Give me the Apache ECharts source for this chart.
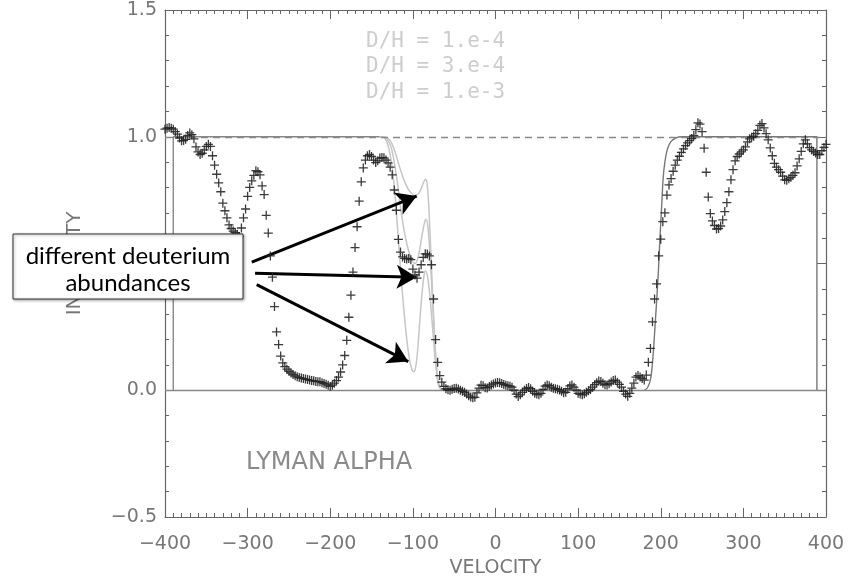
<!DOCTYPE html>
<html><head><meta charset="utf-8">
<script src="https://cdn.jsdelivr.net/npm/echarts@6/dist/echarts.min.js"></script>
<style>html,body{margin:0;padding:0;background:#fff}#c{width:854px;height:583px}</style>
</head><body><div id="c"></div>
<script>
// Velocity grid of the observed spectrum (km/s)
const VEL_START = -400, VEL_STEP = 2.5;
// Observed intensity, in 100 km/s pieces
const flux_m400 = [1.030,1.034,1.036,1.034,1.030,1.020,1.010,0.995,0.984,0.985,
  0.990,1.005,1.015,1.008,0.992,0.960,0.940,0.930,0.935,0.948,
  0.962,0.970,0.962,0.925,0.888,0.852,0.818,0.783,0.738,0.708,
  0.680,0.652,0.638,0.628,0.622,0.615,0.607,0.640,0.680,0.715];
const flux_m300 = [0.765,0.800,0.826,0.848,0.866,0.862,0.850,0.806,0.772,0.690,
  0.620,0.530,0.446,0.330,0.230,0.180,0.135,0.108,0.093,0.083,
  0.075,0.068,0.062,0.057,0.053,0.050,0.048,0.046,0.044,0.042,
  0.040,0.038,0.037,0.035,0.034,0.034,0.030,0.027,0.024,0.020];
const flux_m200 = [0.015,0.020,0.028,0.038,0.052,0.072,0.100,0.137,0.197,0.288,
  0.375,0.466,0.563,0.645,0.746,0.822,0.877,0.908,0.925,0.930,
  0.922,0.908,0.898,0.905,0.916,0.918,0.917,0.908,0.897,0.880,
  0.850,0.790,0.710,0.595,0.545,0.526,0.520,0.518,0.520,0.515];
const flux_m100 = [0.478,0.455,0.442,0.466,0.495,0.524,0.538,0.537,0.530,0.495,
  0.360,0.200,0.110,0.058,0.032,0.015,0.006,0.002,0.000,0.004,
  0.007,0.008,0.005,0.000,-0.004,-0.008,-0.015,-0.022,-0.027,-0.030,
  -0.028,-0.010,0.008,0.020,0.018,0.010,0.009,0.015,0.021,0.025];
const flux_p000 = [0.029,0.031,0.030,0.027,0.023,0.020,0.018,0.016,0.012,0.000,
  -0.015,-0.025,-0.018,-0.008,0.000,0.007,0.011,0.006,-0.004,-0.012,
  -0.015,-0.018,-0.012,0.003,0.016,0.021,0.018,0.012,0.008,0.006,
  0.004,0.001,-0.004,-0.010,-0.008,0.006,0.017,0.021,0.012,0.000];
const flux_p100 = [-0.012,-0.015,-0.018,-0.014,-0.008,-0.002,0.003,0.012,0.022,0.030,
  0.036,0.035,0.028,0.022,0.021,0.026,0.033,0.038,0.040,0.032,
  0.023,0.012,-0.004,-0.015,-0.024,-0.012,0.008,0.028,0.052,0.058,
  0.052,0.046,0.040,0.060,0.110,0.165,0.270,0.360,0.420,0.530];
const flux_p200 = [0.596,0.665,0.700,0.770,0.810,0.835,0.864,0.888,0.908,0.923,
  0.938,0.952,0.965,0.976,0.985,0.993,1.005,1.028,1.055,1.050,
  1.020,0.955,0.860,0.762,0.697,0.668,0.650,0.636,0.638,0.648,
  0.672,0.705,0.740,0.783,0.830,0.870,0.905,0.922,0.932,0.940];
const flux_p300 = [0.948,0.960,0.980,0.992,0.998,1.002,1.012,1.025,1.045,1.052,
  1.035,1.012,0.988,0.956,0.925,0.895,0.880,0.870,0.860,0.845,
  0.830,0.828,0.834,0.840,0.848,0.858,0.885,0.913,0.942,0.972,
  0.988,0.972,0.957,0.948,0.942,0.936,0.930,0.930,0.945,0.958,
  0.970];

// Model profile (velocity, intensity)
const modelLeft = [[-390,0],[-390,1],[-136,1]];
const modelRight = [[180,0],[184,0.01],[188,0.05],[191,0.15],[194,0.30],[197,0.46],[199,0.60],
  [201,0.72],[203,0.84],[205,0.90],[208,0.95],[212,0.98],[218,0.995],[225,1.0],[389,1.0],[389,0]];
const dh1e4 = [[-140,1.0],[-133,0.998],[-129,0.99],[-125,0.97],[-121,0.935],[-117,0.89],[-113,0.85],
  [-109,0.815],[-105,0.79],[-101,0.775],[-97,0.768],[-93,0.776],[-90,0.795],[-87,0.82],[-85,0.832],
  [-83,0.82],[-81,0.74],[-79,0.60],[-77,0.45],[-75,0.30],[-73,0.17],[-71,0.08],[-69,0.03],[-66,0.005],[-60,0]];
const dh3e4 = [[-140,1.0],[-134,0.998],[-130,0.985],[-126,0.955],[-122,0.89],[-118,0.80],[-114,0.70],
  [-110,0.62],[-106,0.56],[-102,0.52],[-98,0.50],[-95,0.51],[-92,0.55],[-89,0.61],[-86,0.66],[-84,0.675],
  [-82,0.65],[-80,0.57],[-78,0.46],[-76,0.34],[-74,0.22],[-72,0.11],[-70,0.045],[-67,0.01],[-60,0]];
const dh1e3 = [[-140,1.0],[-135,0.997],[-131,0.975],[-127,0.92],[-123,0.82],[-119,0.66],[-115,0.48],
  [-111,0.32],[-107,0.19],[-104,0.12],[-101,0.08],[-99,0.073],[-97,0.085],[-95,0.13],[-93,0.21],[-91,0.30],
  [-89,0.38],[-87,0.44],[-85,0.47],[-83,0.46],[-81,0.42],[-79,0.36],[-77,0.28],[-75,0.2],[-73,0.12],
  [-71,0.06],[-69,0.02],[-66,0.005],[-60,0]];
const legendNames = ['D/H = 1.e-4','D/H = 3.e-4','D/H = 1.e-3'];
// Annotation arrows: [start, end] in (velocity, intensity)
const arrows = [[[-295,0.505],[-95.4,0.766]],[[-291,0.462],[-95.4,0.446]],[[-289,0.417],[-105.6,0.113]]];

const flux = [].concat(flux_m400,flux_m300,flux_m200,flux_m100,flux_p000,flux_p100,flux_p200,flux_p300);
const obs = flux.map((y,i)=>[VEL_START+i*VEL_STEP,y]);

const AX = '#666', LBL = '#777', FONT = 'DejaVu Sans';
const minus = s => String(s).replace('-','\u2212');
function xAx(pos, labels){
  return {type:'value',min:-400,max:400,interval:100,position:pos,
    axisLine:{show:true,onZero:false,lineStyle:{color:AX,width:1.2}},
    axisTick:{show:true,inside:true,length:9,lineStyle:{color:AX}},
    minorTick:{show:true,splitNumber:10,length:4,lineStyle:{color:AX}},
    splitLine:{show:false},
    axisLabel:{show:labels,margin:18,color:LBL,fontSize:19,fontFamily:FONT,formatter:v=>minus(v)},
    name:labels?'VELOCITY':'',nameLocation:'middle',nameGap:42,
    nameTextStyle:{color:LBL,fontSize:19,fontFamily:FONT}};
}
function yAx(pos, labels){
  return {type:'value',min:-0.5,max:1.5,interval:0.5,position:pos,
    axisLine:{show:true,onZero:false,lineStyle:{color:AX,width:1.2}},
    axisTick:{show:true,inside:true,length:9,lineStyle:{color:AX}},
    minorTick:{show:true,splitNumber:5,length:4,lineStyle:{color:AX}},
    splitLine:{show:false},
    axisLabel:{show:labels,margin:8,color:LBL,fontSize:19,fontFamily:FONT,formatter:v=>minus(v.toFixed(1))},
    name:labels?'INTENSITY':'',nameLocation:'middle',nameGap:80,
    nameTextStyle:{color:LBL,fontSize:20,fontFamily:FONT}};
}
const plusPath = 'path://M0,5L10,5M5,0L5,10';
const chart = echarts.init(document.getElementById('c'),null,{renderer:'canvas'});
const lightLine = (name,d)=>({name,type:'line',data:d,smooth:0.35,showSymbol:false,symbol:'none',
  lineStyle:{color:'#c6c6c6',width:1.5},z:3,silent:true});
chart.setOption({
  animation:false,
  grid:{left:165,right:28,top:10,bottom:63},
  xAxis:[xAx('bottom',true),xAx('top',false)],
  yAxis:[yAx('left',true),yAx('right',false)],
  graphic:[
    ...legendNames.map((t,i)=>({type:'text',left:366,top:31+i*25.5,z:50,
      style:{text:t,fill:'#cdcdcd',font:'21px "DejaVu Sans Mono"'}})),
    {type:'text',left:246,top:451,z:50,style:{text:'LYMAN ALPHA',fill:'#8a8a8a',font:'24px "DejaVu Sans"'}},
    {type:'rect',zlevel:1,shape:{x:13,y:234,width:230,height:65},
      style:{fill:'#fff',stroke:'#333',lineWidth:1,shadowBlur:3,shadowColor:'rgba(0,0,0,0.35)',shadowOffsetX:1,shadowOffsetY:1}},
    {type:'text',zlevel:1,x:128,y:256,style:{text:'different deuterium',fill:'#000',font:'24px Lato',align:'center',verticalAlign:'middle'}},
    {type:'text',zlevel:1,x:128,y:283,style:{text:'abundances',fill:'#000',font:'24px Lato',align:'center',verticalAlign:'middle'}}
  ],
  series:[
    {type:'line',data:[],markLine:{silent:true,symbol:'none',label:{show:false},
      data:[{yAxis:1,lineStyle:{type:[7,5],color:'#888',width:1.4}},{yAxis:0,lineStyle:{type:'solid',color:'#888',width:1.4}}]},z:2},
    {type:'line',data:modelLeft,showSymbol:false,symbol:'none',lineStyle:{color:'#888',width:1.4},z:3,silent:true},
    {type:'line',data:modelRight,showSymbol:false,symbol:'none',smooth:0.3,lineStyle:{color:'#777',width:1.4},z:3,silent:true},
    lightLine(legendNames[0],dh1e4),lightLine(legendNames[1],dh3e4),lightLine(legendNames[2],dh1e3),
    {type:'scatter',data:obs,symbol:plusPath,symbolSize:9,z:5,silent:true,
      itemStyle:{color:'transparent',borderColor:'#262626',borderWidth:1.3,opacity:0.9}},
    {type:'line',data:[],z:20,zlevel:1,markLine:{silent:true,symbol:['none','arrow'],symbolSize:[18,20],label:{show:false},
      lineStyle:{color:'#000',width:3,type:'solid'},
      data:arrows.map(a=>[{coord:a[0]},{coord:a[1]}])}}
  ]
});
</script></body></html>
